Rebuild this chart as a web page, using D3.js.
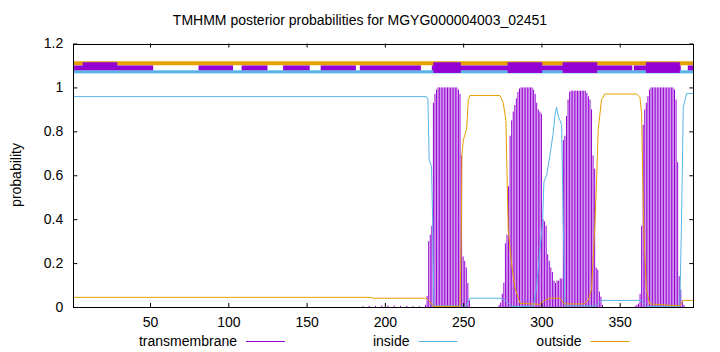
<!DOCTYPE html>
<html>
<head>
<meta charset="utf-8">
<script src="https://cdn.jsdelivr.net/npm/d3@7"></script>
<style>
  body { margin: 0; background: #fff; }
  svg text { font-family: "Liberation Sans", Arial, sans-serif; font-size: 14px; fill: #000; }
</style>
</head>
<body>
<div id="chart"></div>
<script>
// TMHMM posterior probabilities
var seqLength = 397;
var xTicks = [50, 100, 150, 200, 250, 300, 350];
var yTicks = [0, 0.2, 0.4, 0.6, 0.8, 1, 1.2];

// transmembrane impulses: [residue, probability]
var tmLow = [[186,0.004],[190,0.005],[194,0.005],[198,0.006],[202,0.006],[206,0.006],[210,0.005],[214,0.005],[218,0.004],[222,0.004]];
var tmHelix1 = [[226,0.01],[227,0.05],[228,0.30],[229,0.33],[230,0.37],[231,0.93],[232,0.97],[233,0.99],[234,1],[235,1],[236,1],[237,1],[238,1],[239,1],[240,1],[241,1],[242,1],[243,1],[244,1],[245,1],[246,1],[247,0.99],[248,0.97],[249,0.69],[250,0.23],[251,0.21],[252,0.18],[253,0.11],[254,0.03]];
var tmHelix2 = [[273,0.01],[274,0.02],[275,0.06],[276,0.11],[277,0.29],[278,0.33],[279,0.55],[280,0.78],[281,0.85],[282,0.89],[283,0.92],[284,0.95],[285,0.98],[286,0.995],[287,1],[288,1],[289,1],[290,1],[291,1],[292,1],[293,1],[294,1],[295,0.99],[296,0.97],[297,0.93],[298,0.9],[299,0.89],[300,0.88],[301,0.40],[302,0.39],[303,0.37],[304,0.24],[305,0.21],[306,0.18],[307,0.16],[308,0.12],[309,0.11],[310,0.12],[311,0.12],[312,0.13]];
var tmHelix3 = [[313,0.13],[314,0.76],[315,0.78],[316,0.87],[317,0.945],[318,0.98],[319,0.985],[320,0.985],[321,0.985],[322,0.985],[323,0.985],[324,0.985],[325,0.985],[326,0.985],[327,0.985],[328,0.985],[329,0.975],[330,0.96],[331,0.945],[332,0.9],[333,0.69],[334,0.63],[335,0.18],[336,0.17],[337,0.07],[338,0.047],[339,0.01]];
var tmHelix4 = [[360,0.005],[361,0.01],[362,0.016],[363,0.06],[364,0.37],[365,0.83],[366,0.9],[367,0.93],[368,0.96],[369,0.99],[370,1],[371,1],[372,1],[373,1],[374,1],[375,1],[376,1],[377,1],[378,1],[379,1],[380,1],[381,1],[382,1],[383,1],[384,1],[385,0.99],[386,0.945],[387,0.66],[388,0.14],[389,0.08],[390,0.03],[391,0.01]];

// inside / outside curves: [residue, probability]
var inside = [[1,0.958],[226.5,0.958],[227.5,0.945],[228.3,0.67],[229.8,0.64],[230.5,0.40],[231.3,0.005],[252,0.005],[253,0.02],[254.3,0.04],[273.5,0.04],[276,0.035],[279,0.015],[281,0.003],[294.8,0.003],[296.9,0.09],[299,0.26],[300.7,0.38],[301.6,0.57],[303.3,0.6],[305.4,0.69],[307.5,0.79],[308.6,0.87],[309.7,0.91],[310.7,0.87],[311.8,0.85],[312.9,0.83],[313.9,0.4],[315,0.005],[335.2,0.005],[338.4,0.03],[364,0.03],[367,0.003],[388.4,0.003],[389.5,0.4],[390.6,0.91],[392.7,0.972],[397,0.972]];
var outside = [[1,0.044],[190,0.044],[193,0.04],[226.5,0.04],[228,0.03],[231,0.003],[248,0.003],[248.8,0.32],[249.2,0.69],[250.1,0.76],[252.2,0.81],[253.3,0.945],[254.3,0.963],[273.5,0.963],[275.6,0.93],[277.3,0.85],[278.2,0.55],[278.8,0.35],[280.9,0.2],[283,0.09],[286.3,0.017],[299,0.012],[302,0.03],[305.4,0.04],[311.8,0.04],[313.9,0.02],[315,0.014],[326.7,0.014],[329.9,0.03],[332,0.08],[334.1,0.37],[335.2,0.57],[336.3,0.81],[338.4,0.945],[340.5,0.97],[360.8,0.97],[362.9,0.955],[364,0.88],[364.6,0.62],[365.4,0.35],[367,0.08],[369.1,0.014],[388.4,0.005],[390.6,0.03],[397,0.03]];

// topology bands above the plot: [from, to] in residues
var bandOutside = [[1, 397]];
var bandInside = [[1, 397]];
var bandTM = [[1.5,52],[81,103],[108.5,125],[135,152],[159,181.5],[184,223],[230,358],[359,389],[393.5,397]];
var bandTMThickTop = [[7,29]];
var bandTMThick = [[231,248.5],[278.4,300.5],[313.5,335.6],[366.7,388.4]];

var width = 720, height = 352;
var colTM = '#9400d3', colIn = '#56b4e9', colOut = '#e69f00';

var svg = d3.select('#chart').append('svg')
	.attr('width', width)
	.attr('height', height);

var x = d3.scaleLinear().domain([1, seqLength]).range([73.3, 693.3]);
var y = d3.scaleLinear().domain([0, 1.2]).range([307, 43.5]);

// impulses
var tm = tmLow.concat(tmHelix1, tmHelix2, tmHelix3, tmHelix4);
svg.append('g').selectAll('line')
	.data(tm)
	.enter().append('line')
	.attr('x1', function(d){ return x(d[0]); })
	.attr('x2', function(d){ return x(d[0]); })
	.attr('y1', y(0))
	.attr('y2', function(d){ return y(d[1]); })
	.attr('stroke', colTM)
	.attr('stroke-width', 1);

var line = d3.line()
	.x(function(d){ return x(d[0]); })
	.y(function(d){ return y(d[1]); });

svg.append('path').datum(inside)
	.attr('d', line).attr('fill', 'none')
	.attr('stroke', colIn).attr('stroke-width', 1);

svg.append('path').datum(outside)
	.attr('d', line).attr('fill', 'none')
	.attr('stroke', colOut).attr('stroke-width', 1);

// topology bands
function band(data, y0, y1, color) {
	svg.append('g').selectAll('rect')
		.data(data)
		.enter().append('rect')
		.attr('x', function(d){ return x(d[0]); })
		.attr('width', function(d){ return x(d[1]) - x(d[0]); })
		.attr('y', y(y1))
		.attr('height', y(y0) - y(y1))
		.attr('fill', color);
}
band(bandOutside, 1.101, 1.119, colOut);
band(bandInside, 1.064, 1.078, colIn);
band(bandTM, 1.078, 1.100, colTM);
band(bandTMThickTop, 1.081, 1.1145, colTM);
band(bandTMThick, 1.066, 1.1145, colTM);

// axes
var xAxis = d3.axisBottom(x)
	.tickValues(xTicks)
	.tickSizeInner(-4)
	.tickSizeOuter(0)
	.tickPadding(10);
var gx = svg.append('g').attr('transform', 'translate(0,' + y(0) + ')').call(xAxis);
gx.select('.domain').remove();
gx.selectAll('text').style('font-size', '14px').style('font-family', '"Liberation Sans", Arial, sans-serif');

var gxTop = svg.append('g').attr('transform', 'translate(0,' + y(1.2) + ')')
	.call(d3.axisTop(x).tickValues(xTicks).tickSizeInner(-4).tickSizeOuter(0).tickFormat(''));
gxTop.select('.domain').remove();

var yAxis = d3.axisLeft(y)
	.tickValues(yTicks)
	.tickSizeInner(-4)
	.tickSizeOuter(0)
	.tickPadding(10)
	.tickFormat(function(d){ return d3.format('')(+d.toFixed(1)); });
var gy = svg.append('g').attr('transform', 'translate(' + x(1) + ',0)').call(yAxis);
gy.select('.domain').remove();
gy.selectAll('text').style('font-size', '14px').style('font-family', '"Liberation Sans", Arial, sans-serif');

var gyRight = svg.append('g').attr('transform', 'translate(' + x(seqLength) + ',0)')
	.call(d3.axisRight(y).tickValues(yTicks).tickSizeInner(-4).tickSizeOuter(0).tickFormat(''));
gyRight.select('.domain').remove();

// frame
svg.append('rect')
	.attr('x', Math.round(x(1)) + 0.5)
	.attr('y', Math.round(y(1.2)) + 0.5)
	.attr('width', Math.round(x(seqLength)) - Math.round(x(1)))
	.attr('height', Math.round(y(0)) - Math.round(y(1.2)))
	.attr('fill', 'none')
	.attr('stroke', '#000')
	.attr('stroke-width', 1);

// title and y label
svg.append('text')
	.attr('x', 360).attr('y', 25)
	.attr('text-anchor', 'middle')
	.text('TMHMM posterior probabilities for MGYG000004003_02451');

svg.append('text')
	.attr('transform', 'translate(21,175) rotate(-90)')
	.attr('text-anchor', 'middle')
	.text('probability');

// legend
var legendItems = [
	{name: 'transmembrane', color: colTM, x: 237},
	{name: 'inside', color: colIn, x: 409.5},
	{name: 'outside', color: colOut, x: 581.5}
];
var legend = svg.append('g').selectAll('g')
	.data(legendItems)
	.enter().append('g');
legend.append('text')
	.attr('x', function(d){ return d.x; })
	.attr('y', 346)
	.attr('text-anchor', 'end')
	.text(function(d){ return d.name; });
legend.append('line')
	.attr('x1', function(d){ return d.x + 9; })
	.attr('x2', function(d){ return d.x + 48; })
	.attr('y1', 341.5).attr('y2', 341.5)
	.attr('stroke', function(d){ return d.color; })
	.attr('stroke-width', 1);
</script>
</body>
</html>
